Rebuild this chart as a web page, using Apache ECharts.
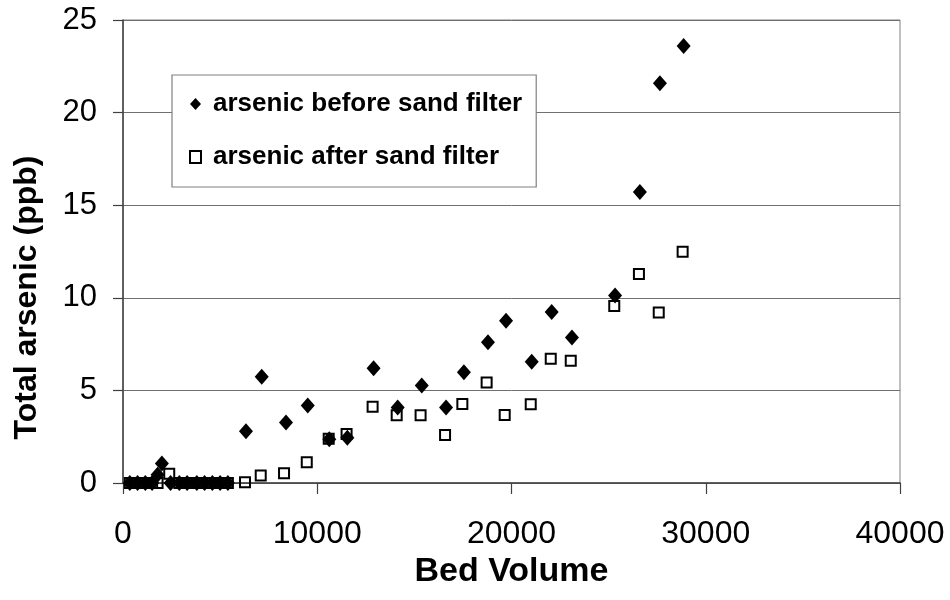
<!DOCTYPE html>
<html><head><meta charset="utf-8">
<script src="https://cdn.jsdelivr.net/npm/echarts@6/dist/echarts.min.js"></script>
<style>html,body{margin:0;padding:0;background:#fff}#c{width:950px;height:600px}</style>
</head><body><div id="c"></div>
<script>
// ---- data ----
const xTickValues = [0, 10000, 20000, 30000, 40000];
const yTickValues = [0, 5, 10, 15, 20, 25];
const seriesNames = ['arsenic before sand filter', 'arsenic after sand filter'];
const xTitle = 'Bed Volume';
const yTitle = 'Total arsenic (ppb)';

const beforeX = [350, 750, 1150, 1500, 1780, 2000, 2450, 2900, 3300, 3800, 4200, 4600, 5000, 5400,
  6330, 7140, 8390, 9510, 10620, 11550, 12900, 14140, 15380, 16630, 17550, 18790, 19720, 21040, 22070, 23110, 25330, 26610, 27640, 28860];
const beforeY = [0, 0, 0, 0, 0.45, 1.05, 0, 0, 0, 0, 0, 0, 0, 0,
  2.8, 5.74, 3.26, 4.19, 2.36, 2.45, 6.19, 4.07, 5.26, 4.07, 5.98, 7.6, 8.76, 6.55, 9.23, 7.85, 10.13, 15.71, 21.58, 23.6];

const afterX = [350, 750, 1150, 1500, 1780, 2380, 2900, 3300, 3800, 4200, 4600, 5000, 5400,
  6280, 7090, 8290, 9460, 10590, 11510, 12850, 14090, 15320, 16580, 17470, 18720, 19650, 20990, 22020, 23050, 25290, 26560, 27580, 28810];
const afterY = [0, 0, 0, 0, 0, 0.5, 0, 0, 0, 0, 0, 0, 0,
  0.04, 0.4, 0.52, 1.12, 2.39, 2.65, 4.12, 3.66, 3.66, 2.59, 4.27, 5.43, 3.67, 4.25, 6.71, 6.6, 9.56, 11.29, 9.2, 12.49];

// ---- chart ----
const FONT = "'Liberation Sans', Arial, sans-serif";
const pairs = (xs, ys) => xs.map((x, i) => [x, ys[i]]);
const chart = echarts.init(document.getElementById('c'), null, {renderer: 'canvas'});
chart.setOption({
  animation: false,
  backgroundColor: '#ffffff',
  grid: {left: 123, right: 50, top: 20, bottom: 117, show: true, borderColor: '#808080', borderWidth: 1, backgroundColor: 'transparent'},
  legend: {
    orient: 'vertical',
    left: 172, top: 75,
    padding: [16, 14, 17, 17],
    itemGap: 27,
    itemWidth: 11, itemHeight: 12,
    backgroundColor: '#ffffff',
    borderColor: '#808080', borderWidth: 1.2, borderRadius: 0,
    textStyle: {fontFamily: FONT, fontSize: 26, fontWeight: 'bold', color: '#000', padding: [0, 0, 0, 7], lineHeight: 25},
    data: [{name: seriesNames[0], icon: 'diamond'}, {name: seriesNames[1], icon: 'rect'}]
  },
  xAxis: {
    type: 'value', min: xTickValues[0], max: xTickValues[xTickValues.length - 1], interval: xTickValues[1] - xTickValues[0],
    name: xTitle, nameLocation: 'middle', nameGap: 61,
    nameTextStyle: {fontFamily: FONT, fontSize: 34, fontWeight: 'bold', color: '#000'},
    axisLine: {show: true, onZero: false, lineStyle: {color: '#404040', width: 1.5}},
    axisTick: {show: true, inside: false, length: 11, lineStyle: {color: '#404040', width: 1.2}},
    axisLabel: {fontFamily: FONT, fontSize: 32, color: '#000', margin: 35, formatter: v => String(v)},
    splitLine: {show: false}
  },
  yAxis: {
    type: 'value', min: yTickValues[0], max: yTickValues[yTickValues.length - 1], interval: yTickValues[1] - yTickValues[0],
    name: yTitle, nameLocation: 'middle', nameGap: 80,
    nameTextStyle: {fontFamily: FONT, fontSize: 32, fontWeight: 'bold', color: '#000', padding: [0, 92, 0, 0]},
    axisLine: {show: true, lineStyle: {color: '#404040', width: 1.5}},
    axisTick: {show: true, inside: false, length: 10, lineStyle: {color: '#404040', width: 1.2}},
    axisLabel: {fontFamily: FONT, fontSize: 31, color: '#000', margin: 26, formatter: v => String(v)},
    splitLine: {show: true, lineStyle: {color: '#707070', width: 1}}
  },
  series: [
    {
      name: seriesNames[0], type: 'scatter', symbol: 'diamond', symbolSize: [14, 16],
      itemStyle: {color: '#000', borderColor: '#000', borderWidth: 0, opacity: 1},
      data: pairs(beforeX, beforeY), z: 3
    },
    {
      name: seriesNames[1], type: 'scatter', symbol: 'rect', symbolSize: 10,
      itemStyle: {color: 'rgba(255,255,255,0)', borderColor: '#000', borderWidth: 2, opacity: 1},
      data: pairs(afterX, afterY), z: 4
    }
  ]
});
</script>
</body></html>
